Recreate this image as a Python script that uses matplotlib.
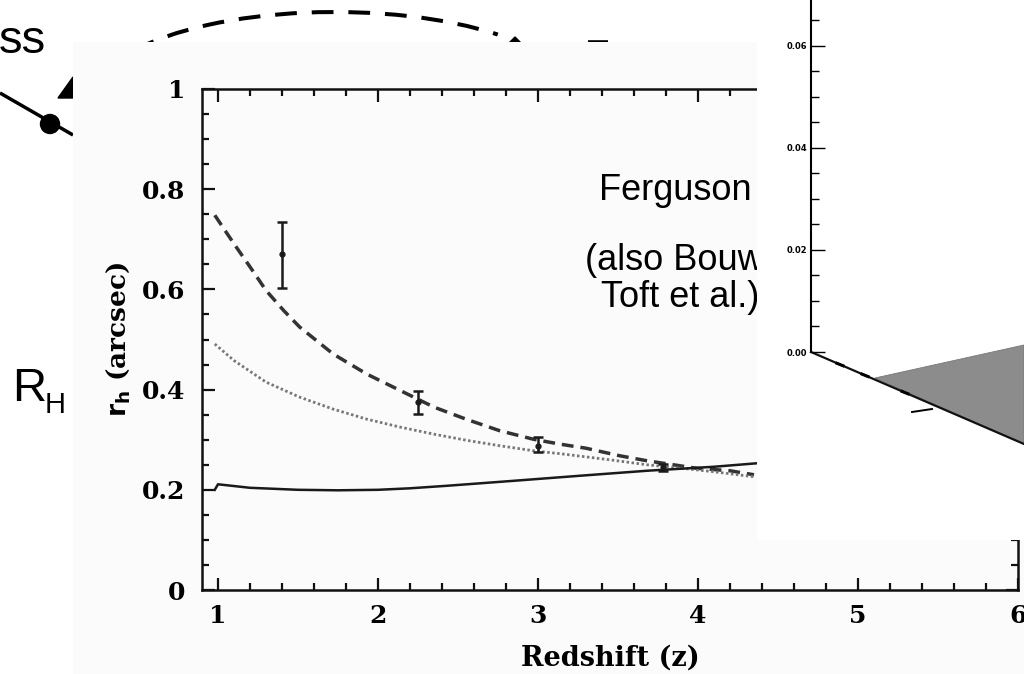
import numpy as np
import matplotlib
matplotlib.use("Agg")
import matplotlib.pyplot as plt
from matplotlib.patches import Rectangle, Polygon, Circle, Arc
from matplotlib.ticker import MultipleLocator, FuncFormatter
from matplotlib.transforms import Bbox

# half-light radius vs redshift: model tracks
Z_DASH = [0.98, 1.10, 1.20, 1.30, 1.41, 1.51, 1.72, 1.93, 2.14, 2.35, 2.55, 2.76,
          2.97, 3.14, 3.30, 3.51, 3.68, 3.99, 4.20, 4.35]
R_DASH = [0.748, 0.691, 0.645, 0.598, 0.558, 0.525, 0.471, 0.431, 0.398, 0.365, 0.341, 0.318,
          0.301, 0.291, 0.283, 0.268, 0.258, 0.243, 0.238, 0.230]

Z_DOT = [0.98, 1.10, 1.30, 1.51, 1.72, 1.93, 2.14, 2.35, 2.55, 2.76, 2.97, 3.14,
         3.47, 3.68, 3.90, 4.10, 4.35]
R_DOT = [0.491, 0.458, 0.415, 0.385, 0.361, 0.341, 0.325, 0.311, 0.299, 0.288, 0.278, 0.272,
         0.259, 0.250, 0.243, 0.236, 0.226]

Z_SOLID = [0.98, 1.00, 1.20, 1.50, 1.75, 2.00, 2.20, 2.43, 2.85, 3.26, 3.68, 4.10, 4.37]
R_SOLID = [0.200, 0.211, 0.204, 0.200, 0.199, 0.200, 0.203, 0.208, 0.218, 0.228, 0.238, 0.246, 0.253]

# measured sizes with error ranges
Z_OBS = [1.40, 2.25, 3.00, 3.78]
R_OBS = [0.671, 0.375, 0.288, 0.245]
R_LO = [0.603, 0.351, 0.275, 0.238]
R_HI = [0.735, 0.397, 0.306, 0.252]

# scale of the 3-d surface plot
SURF_TICKS = [0.00, 0.02, 0.04, 0.06]
SURF_LABELS = ["0.00", "0.02", "0.04", "0.06"]

SANS = "Liberation Sans"
SERIF = "DejaVu Serif"

W, H = 1024, 674
PASTE_X = 757  # left edge of the second pasted figure

fig = plt.figure(figsize=(W / 100, H / 100), dpi=100)

# slide layer, in pixel units
bg = fig.add_axes([0, 0, 1, 1])
bg.set_xlim(0, W)
bg.set_ylim(H, 0)
bg.axis("off")
bg.set_zorder(0)

bg.text(-1, 53, "ss", fontsize=34, family=SANS, va="baseline")
bg.plot([0, 73], [93, 135], color="k", lw=2.5, solid_capstyle="butt")
bg.add_patch(Circle((50, 124), 9.5, color="k"))
bg.add_patch(Polygon([(58, 98), (73, 77), (73, 98)], closed=True, color="k"))
bg.add_patch(Arc((335, 97), 480, 170, theta1=193, theta2=339, color="k", lw=2.9,
                 linestyle=(0, (5.4, 3.7))))
bg.add_patch(Polygon([(509, 43), (515, 37), (521, 43)], closed=True, color="k"))
bg.plot([588, 608], [41.5, 41.5], color="k", lw=2.6, solid_capstyle="butt")
bg.text(12, 401, "R", fontsize=34, family=SANS, va="baseline")
bg.text(45, 413, "H", fontsize=21, family=SANS, va="baseline")

# pasted figure background
bg.add_patch(Rectangle((73, 42), W - 73, H - 42, facecolor="#fbfbfb", edgecolor="none", zorder=10))

# main size-redshift plot
ax = fig.add_axes([202 / W, 1 - 590 / H, (1018 - 202) / W, (590 - 89) / H])
ax.set_zorder(2)
ax.set_facecolor("none")

ax.plot(Z_DASH, R_DASH, color="#333333", lw=2.5, linestyle=(0, (3.4, 2.0)))
ax.plot(Z_DOT, R_DOT, color="#777777", lw=2.0, linestyle=(0, (0.9, 0.9)))
ax.plot(Z_SOLID, R_SOLID, color="#1a1a1a", lw=1.8)
r_obs = np.array(R_OBS)
ax.errorbar(Z_OBS, r_obs, yerr=[r_obs - np.array(R_LO), np.array(R_HI) - r_obs],
            fmt="o", ms=3.5, color="#1a1a1a", elinewidth=1.8, capsize=3.5, capthick=1.8)

ax.set_xlim(0.9, 6.0)
ax.set_ylim(0, 1)
ax.xaxis.set_major_locator(MultipleLocator(1))
ax.xaxis.set_minor_locator(MultipleLocator(0.2))
ax.yaxis.set_major_locator(MultipleLocator(0.2))
ax.yaxis.set_minor_locator(MultipleLocator(0.05))
fmt = FuncFormatter(lambda v, _: f"{v:g}")
ax.xaxis.set_major_formatter(fmt)
ax.yaxis.set_major_formatter(fmt)
ax.tick_params(which="both", direction="in", top=True, right=True, width=1.6, color="#111111")
ax.tick_params(which="major", length=9)
ax.tick_params(which="minor", length=5)
ax.tick_params(axis="x", pad=10)
ax.tick_params(axis="y", pad=12)
for lab in ax.get_xticklabels() + ax.get_yticklabels():
    lab.set_fontfamily(SERIF)
    lab.set_fontweight("bold")
    lab.set_fontsize(18)
for s in ax.spines.values():
    s.set_linewidth(1.8)
    s.set_color("#111111")
ax.set_xlabel("Redshift (z)", fontsize=19.5, family=SERIF, fontweight="bold", labelpad=12)
ax.set_ylabel(r"$\mathbf{r_h}$ (arcsec)", fontsize=19, family=SERIF, fontweight="bold", labelpad=7)

# slide caption over the plot, cut by the second pasted figure
cut = Bbox.from_extents(0, 0, PASTE_X, H)
for x0, y0, txt in [(599, 200, "Ferguson"), (585, 270, "(also Bouw"), (601, 307, "Toft et al.)")]:
    t = ax.text(x0, y0, txt, transform=bg.transData, fontsize=26, family=SANS, va="baseline")
    t.set_clip_box(cut)
    t.set_clip_on(True)

# second pasted figure: corner of a 3-d surface plot
ax3 = fig.add_axes([PASTE_X / W, 1 - 540 / H, (W - PASTE_X) / W, 540 / H])
ax3.set_zorder(5)
ax3.set_facecolor("white")
ax3.set_xlim(PASTE_X, W)
ax3.set_ylim(540, 0)
ax3.set_xticks([])
ax3.set_yticks([])
for s in ax3.spines.values():
    s.set_visible(False)
ax3.add_patch(Polygon([(875, 378), (W, 345), (W, 444)], closed=True,
                      facecolor="#8c8c8c", edgecolor="#777777", lw=0.6))
ax3.plot([811, W], [352, 444], color="#111111", lw=1.6)
for x0 in (840, 865, 905):
    y0 = 352 + (x0 - 811) * 92 / (W - 811)
    ax3.plot([x0 - 3, x0 + 3], [y0 - 1.2, y0 + 1.2], color="k", lw=2.2)
ax3.plot([912, 932], [412, 409], color="k", lw=1.4)

axz = fig.add_axes([811 / W, 1 - 352 / H, 0.2, 352 / H])
axz.set_zorder(6)
axz.set_facecolor("none")
axz.set_ylim(0, 0.069)
axz.set_xticks([])
axz.set_yticks(SURF_TICKS)
axz.set_yticklabels(SURF_LABELS)
axz.yaxis.set_minor_locator(MultipleLocator(0.005))
for side in ("top", "right", "bottom"):
    axz.spines[side].set_visible(False)
axz.spines["left"].set_linewidth(1.5)
axz.tick_params(which="both", direction="in", width=1.0, pad=3)
axz.tick_params(which="major", length=10, labelsize=6)
axz.tick_params(which="minor", length=6)
for lab in axz.get_yticklabels():
    lab.set_fontweight("bold")

fig.savefig("out.png", dpi=100, facecolor="white")
